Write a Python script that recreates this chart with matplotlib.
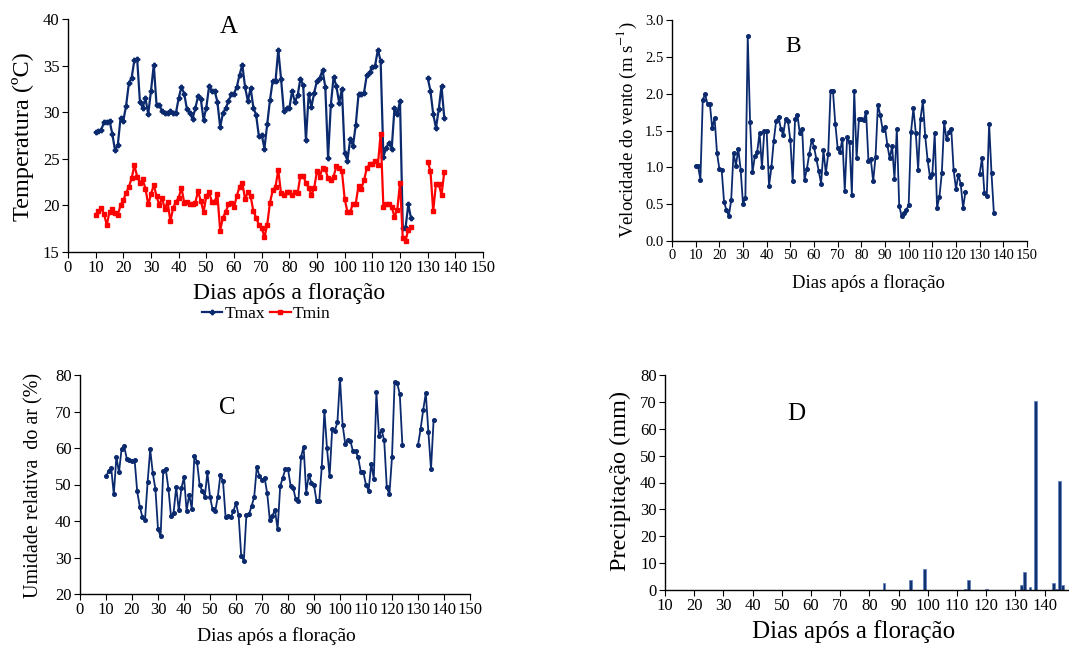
import numpy as np
import matplotlib
matplotlib.use("Agg")
import matplotlib.pyplot as plt
from matplotlib.lines import Line2D

plt.rcParams["font.family"] = ["Liberation Serif", "DejaVu Serif"]
plt.rcParams["mathtext.fontset"] = "stix"

NAVY = "#0b2a6e"
RED = "#ff0000"

# dias apos a floracao (sem leituras entre 125 e 129)
dias = np.arange(10, 137)
sem = [None] * 5

tmax = [27.9, 28.0, 28.1, 28.9, 29.0, 29.1, 27.7, 25.9, 26.5, 29.4,
        29.1, 30.7, 33.1, 33.7, 35.6, 35.7, 31.1, 30.5, 31.5, 29.8,
        32.3, 35.1, 30.8, 30.8, 30.1, 29.9, 29.9, 30.1, 29.9, 29.9,
        31.5, 32.7, 32.0, 30.3, 29.9, 29.3, 30.4, 31.7, 31.4, 29.2,
        30.5, 32.8, 32.3, 32.3, 31.1, 28.4, 29.9, 30.4, 31.2, 31.9,
        32.0, 32.7, 34.0, 35.1, 32.7, 31.2, 32.6, 30.5, 29.7, 27.4,
        27.6, 26.1, 28.7, 31.3, 33.4, 33.3, 36.7, 33.6, 30.1, 30.4,
        30.4, 32.3, 31.1, 31.8, 33.6, 32.9, 27.0, 31.9, 30.6, 32.1,
        33.4, 33.7, 34.5, 32.7, 25.1, 30.8, 33.8, 32.8, 31.0, 32.5,
        25.6, 24.8, 27.1, 26.4, 28.6, 31.9, 31.9, 32.1, 34.0, 34.3,
        34.8, 35.0, 36.7, 35.5, 25.2, 26.2, 26.7, 26.1, 30.4, 29.8,
        31.2, 17.6, 17.6, 20.1, 18.6] + sem + \
       [33.7, 32.3, 29.8, 28.3, 30.3, 32.8, 29.4]

tmin = [19.0, 19.4, 19.7, 19.1, 17.9, 19.3, 19.6, 19.2, 19.0, 20.0,
        20.6, 21.3, 22.0, 22.9, 24.3, 23.1, 22.4, 22.8, 21.8, 20.1,
        21.2, 22.2, 21.0, 20.0, 20.8, 19.6, 20.4, 18.3, 19.7, 20.4,
        20.8, 21.9, 20.3, 20.4, 20.1, 20.2, 20.3, 21.5, 20.5, 19.3,
        21.0, 21.4, 20.4, 20.4, 21.2, 17.3, 18.7, 19.3, 20.1, 20.3,
        19.8, 21.0, 22.0, 22.4, 20.7, 21.4, 21.0, 19.4, 18.7, 17.9,
        17.6, 16.6, 17.9, 20.3, 21.6, 22.0, 23.8, 21.3, 21.1, 21.4,
        21.4, 21.1, 21.4, 21.3, 23.2, 23.2, 22.4, 21.9, 21.1, 21.9,
        23.7, 23.1, 24.0, 23.9, 22.9, 22.7, 23.1, 24.2, 24.0, 23.7,
        20.7, 19.3, 19.3, 20.2, 20.2, 22.1, 21.8, 22.7, 24.0, 24.4,
        24.4, 24.8, 24.3, 27.7, 19.8, 20.1, 20.1, 19.8, 18.8, 19.5,
        22.4, 16.5, 16.2, 17.4, 17.7] + sem + \
       [24.7, 23.7, 19.4, 22.3, 22.3, 21.1, 23.6]

vento = [1.02, 1.02, 0.83, 1.92, 1.99, 1.86, 1.86, 1.53, 1.67, 1.20,
         0.98, 0.96, 0.53, 0.42, 0.34, 0.55, 1.20, 1.02, 1.25, 0.97,
         0.50, 0.59, 2.78, 1.61, 0.93, 1.15, 1.21, 1.47, 1.00, 1.49,
         1.49, 0.75, 1.00, 1.36, 1.63, 1.69, 1.52, 1.44, 1.66, 1.63,
         1.37, 0.81, 1.66, 1.71, 1.46, 1.52, 0.83, 0.98, 1.18, 1.37,
         1.28, 1.11, 0.95, 0.78, 1.23, 0.92, 1.18, 2.04, 2.04, 1.59,
         1.26, 1.21, 1.39, 0.68, 1.41, 1.34, 0.63, 2.04, 1.12, 1.66,
         1.66, 1.64, 1.75, 1.09, 1.11, 0.81, 1.14, 1.85, 1.71, 1.51,
         1.55, 1.30, 1.12, 1.29, 0.84, 1.52, 0.48, 0.34, 0.38, 0.42,
         0.49, 1.48, 1.80, 1.47, 0.97, 1.66, 1.90, 1.42, 1.10, 0.87,
         0.91, 1.46, 0.45, 0.60, 0.92, 1.61, 1.38, 1.48, 1.52, 0.96,
         0.71, 0.90, 0.77, 0.45, 0.67] + sem + \
        [0.91, 1.13, 0.65, 0.61, 1.59, 0.92, 0.38]

umidade = [52.2, 53.7, 54.5, 47.3, 57.6, 53.3, 59.8, 60.5, 57.0, 56.6,
           56.4, 56.8, 48.1, 43.9, 41.1, 40.3, 50.6, 59.6, 53.1, 48.8,
           37.8, 35.8, 53.7, 54.2, 48.9, 41.3, 42.3, 49.3, 42.9, 49.0,
           52.0, 42.8, 47.2, 43.3, 57.9, 56.3, 50.0, 48.2, 46.7, 53.3,
           46.6, 43.2, 42.7, 46.6, 52.6, 50.9, 41.0, 41.4, 41.0, 42.7,
           44.9, 41.6, 30.5, 29.1, 41.6, 41.8, 44.1, 46.6, 54.8, 52.4,
           51.2, 51.9, 47.6, 40.3, 41.5, 43.0, 37.7, 49.5, 51.9, 54.2,
           54.2, 49.7, 49.0, 45.9, 45.4, 57.5, 60.4, 47.8, 52.6, 50.5,
           49.8, 45.4, 45.4, 54.9, 70.2, 59.9, 52.2, 65.3, 64.7, 67.0,
           79.0, 66.4, 61.2, 62.1, 61.9, 59.1, 59.1, 57.4, 53.4, 53.3,
           49.9, 48.3, 55.7, 51.6, 75.4, 63.3, 64.9, 62.1, 49.2, 47.3,
           57.5, 78.0, 77.8, 74.7, 60.7] + sem + \
          [60.8, 65.2, 70.4, 75.0, 64.3, 54.2, 67.6]

chuva_dias = [85, 94, 99, 113, 114, 120, 132, 133, 135, 137, 143, 144, 145, 146]
chuva_mm = [2.6, 3.7, 7.8, 0.4, 3.7, 0.5, 1.7, 6.7, 1.1, 70.2, 2.6, 0.4, 40.4, 1.7]


def serie(v):
    return np.array([np.nan if x is None else x for x in v], dtype=float)


W, H = 1069, 646


def eixo(fig, x0, x1, ytop, ybot):
    ax = fig.add_axes([x0 / W, 1 - ybot / H, (x1 - x0) / W, (ybot - ytop) / H])
    ax.spines["top"].set_visible(False)
    ax.spines["right"].set_visible(False)
    for s in ("left", "bottom"):
        ax.spines[s].set_linewidth(1.0)
    ax.tick_params(direction="out", length=4, width=0.8, pad=2)
    return ax


fig = plt.figure(figsize=(W / 100, H / 100), dpi=100)

# A - temperatura
axA = eixo(fig, 68, 483, 19, 252)
axA.plot(dias, serie(tmax), color=NAVY, lw=1.6, marker="P", ms=3.2)
axA.plot(dias, serie(tmin), color=RED, lw=1.6, marker="s", ms=3.3)
axA.set_xlim(0, 150)
axA.set_ylim(15, 40)
axA.set_xticks(np.arange(0, 151, 10))
axA.set_yticks(np.arange(15, 41, 5))
axA.tick_params(labelsize=12)
fig.text(229 / W, 1 - 27 / H, "A", fontsize=18, ha="center", va="center")
fig.text(289 / W, 1 - 294 / H, "Dias após a floração", fontsize=17, ha="center", va="center")
fig.text(23 / W, 1 - 137 / H, "Temperatura (ºC)", fontsize=17.5, rotation=90, ha="center", va="center")
handles = [Line2D([], [], color=NAVY, lw=1.6, marker="P", ms=3.2),
           Line2D([], [], color=RED, lw=1.6, marker="s", ms=3.3)]
fig.legend(handles, ["Tmax", "Tmin"], loc="center", bbox_to_anchor=(266 / W, 1 - 314 / H),
           ncol=2, frameon=False, fontsize=12.5, handlelength=1.2, handletextpad=0.1,
           columnspacing=0.3, borderpad=0.1)

# B - vento
axB = eixo(fig, 672, 1027, 20, 241)
axB.plot(dias, serie(vento), color=NAVY, lw=1.3, marker="o", ms=2.6)
axB.set_xlim(0, 150)
axB.set_ylim(0, 3)
axB.set_xticks(np.arange(0, 151, 10))
axB.set_yticks(np.arange(0, 3.01, 0.5))
axB.set_yticklabels([f"{v:.1f}" for v in np.arange(0, 3.01, 0.5)])
axB.tick_params(labelsize=10.5)
fig.text(793 / W, 1 - 47 / H, "B", fontsize=17, ha="center", va="center")
fig.text(868 / W, 1 - 283 / H, "Dias após a floração", fontsize=13.5, ha="center", va="center")
fig.text(627 / W, 1 - 130 / H, "Velocidade do vento (m s$^{-1}$)", fontsize=13.5,
         rotation=90, ha="center", va="center")

# C - umidade relativa
axC = eixo(fig, 80, 470, 375, 594)
axC.plot(dias, serie(umidade), color=NAVY, lw=1.3, marker="o", ms=2.6)
axC.set_xlim(0, 150)
axC.set_ylim(20, 80)
axC.set_xticks(np.arange(0, 151, 10))
axC.set_yticks(np.arange(20, 81, 10))
axC.tick_params(labelsize=12)
fig.text(227 / W, 1 - 408 / H, "C", fontsize=18, ha="center", va="center")
fig.text(276 / W, 1 - 636 / H, "Dias após a floração", fontsize=14, ha="center", va="center")
fig.text(34 / W, 1 - 485 / H, "Umidade relativa  do ar (%)", fontsize=14.5,
         rotation=90, ha="center", va="center")

# D - precipitacao
axD = eixo(fig, 665, 1068, 375, 590)
axD.bar(chuva_dias, chuva_mm, width=1.0, color="#13336f", edgecolor="#5a7cc0", linewidth=0.5)
axD.set_xlim(10, 148)
axD.set_ylim(0, 80)
axD.set_xticks(np.arange(10, 141, 10))
axD.set_yticks(np.arange(0, 81, 10))
axD.tick_params(labelsize=12)
fig.text(796 / W, 1 - 414 / H, "D", fontsize=18, ha="center", va="center")
fig.text(854 / W, 1 - 632 / H, "Dias após a floração", fontsize=18, ha="center", va="center")
fig.text(620 / W, 1 - 481 / H, "Precipitação (mm)", fontsize=17.5,
         rotation=90, ha="center", va="center")

fig.savefig("out.png", dpi=100)
